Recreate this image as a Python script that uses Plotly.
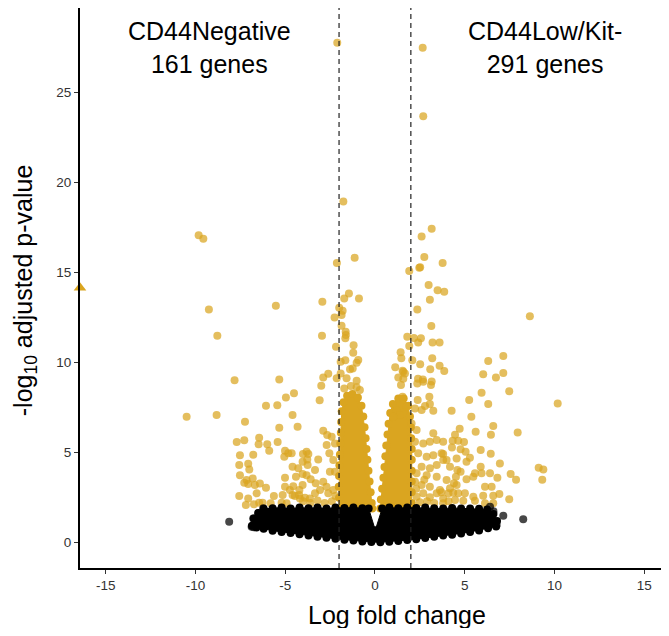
import plotly.graph_objects as go

# ---------------- data ----------------
# individually visible significant genes (gold)
gold_x = [-2.1, 2.66, 2.69, -1.76, -9.82, -9.56, 3.16, 2.6, 2.75, 2.47, 2.52, 3.77, 1.91, -2.12, -1.13,
          2.99, 3.49, 3.86, 3.06, -1.45, -1.71, -0.89, -2.93, -5.52, -9.25, 2.36, -1.99, -1.8, -1.86, -2.25,
          8.63, -1.86, 3.14, -1.63, -1.62, -1.65, -8.78, -2.95, 1.8, 2.17, 2.56, 2.41, 3.21, 3.6, -2.17,
          1.91, -1.19, -1.21, 1.43, 1.47, 7.15, 3.19, -1.65, -1.91, 2.08, 6.31, -1.02, -1.24, -1.39, 2.52,
          3.6, 1.13, 3.08, 3.86, 1.58, 6.03, 6.74, 7.15, -2.6, -2.88, -2.99, -2.13, -1.91, -0.93, -1.58,
          -1.02, -1.34, -1.02, -0.84, -1.71, -7.82, -5.33, 2.4, 2.67, 3.16, 1.54, 1.67, 1.3, 1.58, 1.45,
          2.36, 2.69, 3.12, 1.54, 2.38, 3.03, 3.06, 3.25, 4.27, 2.79, 2.6, 2.23, 1.77, 1.21, 1.39, 1.02,
          7.48, 5.94, 5.25, 6.31, 10.18, 5.37, 6.59, 6.46, 5.61, 4.72, 4.46, 4.33, 4.64, 4.96, 7.95,
          4.29, 4.77, 5.05, 5.29, 5.1, 5.89, 6.45, 6.96, 5.89, 6.41, 6.82, 7.56, 7.86, 9.12, 9.38, 9.32,
          3.8, 3.8, 4.18, 4.59, 4.77, 4.51, 5.1, 5.57, 5.94, 5.48, 6.13, 6.5, 6.03, 6.59, 6.93, 7.48,
          6.13, 6.59, 4.55, 4.36, 5.01, 5.48, 4.46, 4.92, 5.57, 3.8,
          2.04, 2.32, 2.23, 2.69, 3.06, 3.25, 3.44, 3.8, 2.41, 2.88, 3.25, 3.71, 3.99, 4.55, 3.44, 3.06,
          2.6, 2.32, 2.88, 3.44, 3.99, 4.18, 3.62, 3.06, 2.6, 2.23, 2.69, 3.44, 4.09, 4.64, 2.32, 3.06, 3.8,
          -10.49, -8.82, -7.24, -4.51, -4.96, -5.44, -6.07, -4.59, -5.33, -4.31, -7.7, -7.28, -6.45, -6.48,
          -6.0, -5.42, -5.89, -5.01, -4.83, -5.05, -4.64, -4.01, -3.71, -7.52, -6.78, -7.56, -7.06, -7.0,
          -7.52, -7.15, -6.81, -7.28, -7.06, -6.69, -6.41, -6.07, -5.01, -4.4, -4.03, -4.59, -4.03, -3.75,
          -7.56, -7.06, -7.19, -6.74, -6.45, -6.26, -5.81, -5.63, -5.14, -4.92, -4.59, -4.22, -5.2, -6.59,
          -5.01, -4.74, -3.81, -3.77, -4.27, -3.16, -3.34, -3.81, -3.58, -4.03, -4.55, -4.21, -2.88, -2.66,
          -2.41, -2.69, -2.23, -2.54, -2.32, -2.51, -2.23, -2.88, -3.06, -2.6, -2.32, -3.34, -3.62, -4.18,
          -4.46, -3.08,
          -4.0, -3.6, -3.2, -2.8, -2.4, -2.2, -2.7, -3.3, -3.9,
          2.5, 2.9, 3.3, 3.7, 4.1, 4.4, 2.3, 2.75]
gold_y = [27.73, 27.45, 23.65, 18.93, 17.05, 16.86, 17.42, 16.99, 15.85, 15.25, 15.28, 15.51, 15.07, 15.51, 15.81,
          14.29, 14.0, 13.92, 13.48, 13.83, 13.55, 13.55, 13.37, 13.15, 12.94, 12.94, 13.03, 12.87, 12.63, 12.5,
          12.57, 12.04, 12.02, 11.7, 11.52, 11.34, 11.48, 11.48, 11.43, 11.35, 11.34, 11.11, 11.11, 11.11, 10.87,
          10.91, 10.95, 10.54, 10.56, 10.23, 10.36, 10.24, 10.12, 10.04, 10.12, 10.08, 9.98, 9.67, 9.62, 9.9,
          9.82, 9.73, 9.63, 9.52, 9.48, 9.34, 9.17, 9.41, 9.37, 9.17, 8.71, 9.12, 9.39, 10.13, 9.12,
          8.99, 8.69, 8.62, 8.47, 8.56, 9.02, 9.06, 9.1, 9.06, 8.95, 9.54, 9.39, 9.17, 9.1, 8.75,
          8.84, 8.93, 8.75, 8.1, 7.92, 8.1, 7.69, 7.32, 7.32, 7.58, 7.36, 7.45, 7.54, 7.32, 7.08, 6.99,
          8.4, 8.32, 7.92, 7.69, 7.73, 6.99, 6.47, 5.99, 6.16, 6.32, 5.99, 5.66, 5.66, 5.59, 6.12,
          5.29, 5.18, 5.05, 4.72, 4.49, 5.14, 4.94, 4.4, 4.22, 3.85, 3.61, 3.81, 3.49, 4.16, 4.07, 3.49,
          4.92, 4.59, 4.22, 4.03, 3.94, 3.66, 3.52, 3.85, 3.85, 3.66, 3.11, 3.11, 2.61, 2.61, 2.7, 2.42,
          2.19, 2.19, 3.2, 2.77, 2.74, 2.55, 2.37, 2.33, 2.33, 2.19,
          6.62, 6.25, 5.6, 5.51, 5.6, 6.07, 5.7, 5.6, 4.96, 4.77, 4.86, 4.96, 4.59, 4.68, 4.31, 4.13,
          4.22, 3.85, 3.75, 3.66, 3.48, 3.02, 2.92, 3.11, 3.2, 3.38, 2.74, 2.74, 2.74, 2.74, 2.55, 2.52, 2.46,
          6.99, 7.08, 6.71, 8.29, 8.06, 7.62, 7.6, 7.08, 6.38, 6.43, 5.59, 5.68, 5.82, 5.46,
          5.47, 5.59, 5.1, 5.1, 4.96, 4.77, 4.96, 4.92, 4.92, 4.85, 4.88, 4.31, 4.38, 4.07,
          3.75, 3.48, 3.57, 3.33, 3.26, 3.2, 3.29, 3.05, 3.6, 3.66, 3.81, 4.22, 4.49, 4.31,
          2.59, 2.46, 2.09, 2.13, 2.22, 2.22, 2.19, 2.59, 2.65, 2.19, 2.65, 2.65, 2.22, 2.74,
          3.11, 2.92, 5.05, 4.62, 4.13, 4.62, 4.03, 3.75, 3.52, 3.2, 3.14, 2.92, 6.21, 5.97,
          5.88, 5.42, 5.51, 4.96, 4.59, 3.94, 3.94, 3.38, 2.92, 2.74, 2.92, 2.74, 2.46, 2.46,
          2.59, 7.9,
          2.3, 2.2, 2.35, 2.2, 2.3, 2.6, 3.1, 3.3, 2.5,
          2.25, 2.3, 2.2, 2.8, 2.3, 3.3, 3.0, 3.5]

# dense cores of significant genes (edge genes of the solid gold areas)
core_left_x = [-2.0, -2.0, -2.02, -2.0, -1.98, -1.95, -1.93, -1.9, -1.88, -1.85, -1.75, -1.55, -1.25,
               -0.95, -0.75, -0.65, -0.58, -0.52, -0.47, -0.42, -0.36, -0.3, -0.24, -0.18, -0.15]
core_left_y = [1.9, 2.5, 3.1, 3.7, 4.3, 4.9, 5.5, 6.1, 6.7, 7.3, 7.8, 8.15, 8.25,
               8.05, 7.6, 7.0, 6.4, 5.8, 5.2, 4.6, 4.0, 3.4, 2.8, 2.2, 1.9]
core_right_x = [0.3, 0.33, 0.4, 0.47, 0.53, 0.58, 0.63, 0.7, 0.76, 0.85, 1.0, 1.3, 1.6, 1.85, 1.95,
                2.0, 2.02, 2.05, 2.05, 2.05, 2.05, 2.05, 2.05, 2.05]
core_right_y = [1.9, 2.4, 3.0, 3.6, 4.2, 4.8, 5.4, 6.0, 6.6, 7.2, 7.7, 8.0, 8.0, 7.6, 7.0,
                6.4, 5.8, 5.2, 4.6, 4.0, 3.4, 2.8, 2.2, 1.9]

# dense cloud of non-significant genes (edge genes of the solid black area)
cloud_x = [-6.85, -6.75, -6.5, -6.2, -5.7, -5.2, -4.7, -4.2, -3.7, -3.2, -2.7, -2.2, -1.7, -1.2, -0.7,
           -0.35, 0.02, 0.4, 0.8, 1.3, 1.8, 2.3, 2.8, 3.3, 3.8, 4.3, 4.8, 5.3, 5.8, 6.25, 6.6, 6.8,
           6.75, 6.3, 5.8, 5.3, 4.8, 4.3, 3.8, 3.3, 2.8, 2.3, 1.8, 1.3, 0.8, 0.3, -0.2, -0.7, -1.2,
           -1.7, -2.2, -2.7, -3.2, -3.7, -4.2, -4.7, -5.2, -5.7, -6.2, -6.6]
cloud_y = [0.95, 1.35, 1.65, 1.88, 1.92, 1.95, 1.9, 1.95, 1.92, 1.95, 1.9, 1.95, 1.93, 1.95, 1.92,
           1.9, 0.7, 1.9, 1.95, 1.92, 1.95, 1.93, 1.95, 1.92, 1.9, 1.93, 1.9, 1.9, 1.88, 1.85, 1.6, 1.2,
           0.9, 0.8, 0.68, 0.6, 0.52, 0.45, 0.4, 0.33, 0.27, 0.2, 0.15, 0.1, 0.06, 0.03, 0.04, 0.07, 0.12,
           0.17, 0.22, 0.28, 0.34, 0.4, 0.47, 0.54, 0.6, 0.67, 0.78, 0.85]

# individually visible non-significant genes (black)
black_x = [-8.12, 8.26, 7.15, 6.78, 6.5, 6.41, 6.6, -6.87, -6.5, -6.22, -6.78, -6.75]
black_y = [1.16, 1.3, 1.5, 0.98, 1.35, 2.0, 1.75, 0.89, 1.63, 1.91, 1.35, 0.86]

# genes beyond the x limits (triangles, drawn at the axis limits)
tri_x = [-16.43, 16.36, 16.36]
tri_y = [14.15, 16.33, 10.32]

x_ticks = [-15, -10, -5, 0, 5, 10, 15]
x_ticklabels = ["-15", "-10", "-5", "0", "5", "10", "15"]
y_ticks = [0, 5, 10, 15, 20, 25]
y_ticklabels = ["0", "5", "10", "15", "20", "25"]
fc_cut = [-2, 2]

labels = ["CD44Negative<br>161 genes", "CD44Low/Kit-<br>291 genes"]
label_x = [-9.2, 9.5]

GOLD = "#DAA520"
FONT = "Liberation Sans, Arial, Helvetica, sans-serif"

fig = go.Figure()
# gold dense cores
for cx, cy in [(core_left_x, core_left_y), (core_right_x, core_right_y)]:
    fig.add_trace(go.Scatter(x=cx, y=cy, mode="lines+markers", fill="toself", fillcolor=GOLD,
                             line=dict(color=GOLD, width=1), marker=dict(color=GOLD, size=8),
                             hoverinfo="skip", showlegend=False))
# gold points
fig.add_trace(go.Scatter(x=gold_x, y=gold_y, mode="markers",
                         marker=dict(color=GOLD, size=8, opacity=0.72, line=dict(width=0)),
                         showlegend=False, cliponaxis=False))
# black dense cloud
fig.add_trace(go.Scatter(x=cloud_x, y=cloud_y, mode="lines+markers", fill="toself", fillcolor="black",
                         line=dict(color="black", width=1), marker=dict(color="black", size=8),
                         hoverinfo="skip", showlegend=False))
fig.add_trace(go.Scatter(x=black_x, y=black_y, mode="markers",
                         marker=dict(color="black", size=8, opacity=0.72, line=dict(width=0)),
                         showlegend=False, cliponaxis=False))
# triangles
fig.add_trace(go.Scatter(x=tri_x, y=tri_y, mode="markers",
                         marker=dict(color=GOLD, size=11, symbol="triangle-up", line=dict(width=0)),
                         showlegend=False, cliponaxis=False))

for xv in fc_cut:
    fig.add_shape(type="line", xref="x", yref="paper", x0=xv, x1=xv, y0=0, y1=1,
                  line=dict(color="#222222", width=1.2, dash="5px,4px"))

for t, lx in zip(labels, label_x):
    fig.add_annotation(x=lx, y=27.45, xref="x", yref="y", text=t, showarrow=False,
                       font=dict(family=FONT, size=25, color="black"), align="center",
                       xanchor="center", yanchor="middle")

fig.add_annotation(x=0.538, y=-0.0839, xref="paper", yref="paper", text="Log fold change",
                   showarrow=False, font=dict(family=FONT, size=25, color="black"),
                   xanchor="center", yanchor="middle")
fig.add_annotation(x=-0.0934, y=0.496, xref="paper", yref="paper",
                   text="-log<sub>10</sub> adjusted p-value", textangle=-90,
                   showarrow=False, font=dict(family=FONT, size=25, color="black"),
                   xanchor="center", yanchor="middle")

axis_common = dict(showgrid=False, zeroline=False, showline=True, linecolor="black", linewidth=2,
                   ticks="outside", ticklen=4, tickwidth=1, tickcolor="#333333", automargin=False,
                   tickfont=dict(family=FONT, size=13.5, color="#333333"), fixedrange=True)
fig.update_xaxes(range=[-16.43, 16.38], tickvals=x_ticks, ticktext=x_ticklabels, **axis_common)
fig.update_yaxes(range=[-1.40, 29.66], tickvals=y_ticks, ticktext=y_ticklabels, **axis_common)

# the page body adds an 8px margin, so the figure is kept inside the window
fig.update_layout(width=661, height=620, margin=dict(l=72, r=0, t=0, b=60, autoexpand=False),
                  plot_bgcolor="white", paper_bgcolor="white", showlegend=False,
                  font=dict(family=FONT))

fig.write_html("out.html")
